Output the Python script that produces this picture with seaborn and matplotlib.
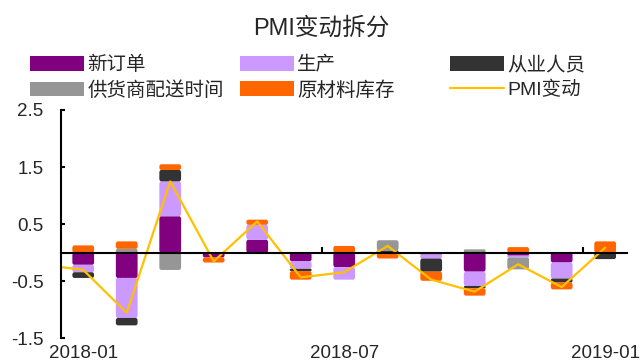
import numpy as np
import pandas as pd
import matplotlib
matplotlib.use('Agg')
import matplotlib.pyplot as plt
from matplotlib.patches import Patch, FancyBboxPatch
from matplotlib.lines import Line2D
import seaborn as sns

# 数据
months = ['2018-01', '2018-02', '2018-03', '2018-04', '2018-05', '2018-06', '2018-07',
          '2018-08', '2018-09', '2018-10', '2018-11', '2018-12', '2019-01']
new_orders = [-0.21, -0.44, 0.64, -0.08, 0.23, -0.15, -0.25, 0.00, -0.03, -0.33, -0.05, -0.17, 0.00]
production = [-0.13, -0.70, 0.61, 0.00, 0.26, -0.13, -0.22, 0.00, -0.07, -0.25, -0.03, -0.28, 0.00]
employment = [-0.10, -0.13, 0.20, 0.00, 0.00, -0.04, 0.00, 0.04, -0.23, -0.04, 0.00, -0.07, -0.11]
supplier = [0.00, 0.07, -0.30, 0.00, 0.00, 0.00, 0.00, 0.18, 0.00, 0.06, -0.21, 0.00, 0.00]
inventory = [0.13, 0.13, 0.10, -0.09, 0.09, -0.15, 0.12, -0.10, -0.16, -0.13, 0.10, -0.12, 0.20]
# PMI变动 (含2017-12)
pmi_months = ['2017-12'] + months
pmi_change = [-0.20, -0.30, -1.05, 1.25, -0.15, 0.55, -0.43, -0.34, 0.12, -0.47, -0.68, -0.20, -0.60, 0.09]

series = [('新订单', new_orders, '#800080'),
          ('生产', production, '#CC99FF'),
          ('从业人员', employment, '#333333'),
          ('供货商配送时间', supplier, '#969696'),
          ('原材料库存', inventory, '#FF6600')]
line_color = '#FFC000'

sns.set_theme(style='white')
plt.rcParams['font.family'] = ['Liberation Sans', 'Noto Sans CJK SC', 'DejaVu Sans']
plt.rcParams['axes.unicode_minus'] = False

fig = plt.figure(figsize=(6.43, 3.63), dpi=100)
ax = fig.add_axes([0.0956, 0.0675, 0.8794, 0.6295])

# 堆积柱：正值向上、负值向下分别累加
pos_base = np.zeros(len(months))
neg_base = np.zeros(len(months))
for name, vals, color in series:
    v = np.array(vals)
    bottom = np.where(v >= 0, pos_base, neg_base)
    df = pd.DataFrame({'月份': months, '值': v})
    sns.barplot(data=df, x='月份', y='值', color=color, saturation=1, width=0.5,
                bottom=bottom, ax=ax)
    pos_base = pos_base + np.clip(v, 0, None)
    neg_base = neg_base + np.clip(v, None, 0)

# 柱子圆角
for p in list(ax.patches):
    h = p.get_height()
    if abs(h) < 1e-9:
        p.remove()
        continue
    x, y, w = p.get_x(), p.get_y(), p.get_width()
    y0 = min(y, y + h)
    r = min(0.045, abs(h) / 2)
    fb = FancyBboxPatch((x, y0), w, abs(h), boxstyle=f'round,pad=0,rounding_size={r}',
                        facecolor=p.get_facecolor(), edgecolor='none', zorder=p.get_zorder())
    p.remove()
    ax.add_patch(fb)

# PMI变动折线
line_df = pd.DataFrame({'x': np.arange(len(pmi_months)) - 1, 'PMI变动': pmi_change})
sns.lineplot(data=line_df, x='x', y='PMI变动', color=line_color, linewidth=1.6, ax=ax)

ax.set_xlim(-0.5, len(months) - 0.5)
ax.set_ylim(-1.5, 2.5)
ax.set_yticks([-1.5, -0.5, 0.5, 1.5, 2.5])
ax.set_yticklabels(['-1.5', '-0.5', '0.5', '1.5', '2.5'])
ax.set_xlabel('')
ax.set_ylabel('')

for s in ['top', 'right']:
    ax.spines[s].set_visible(False)
ax.spines['left'].set_color('black')
ax.spines['left'].set_linewidth(1.5)
ax.spines['bottom'].set_position(('data', 0))
ax.spines['bottom'].set_color('black')
ax.spines['bottom'].set_linewidth(1.5)
ax.set_zorder(1)

ax.tick_params(axis='y', direction='in', length=3, width=1.5, color='black',
               labelsize=13.5, pad=13, left=True)
# x轴：零线上的小刻度，标签放在底部
ax.set_xticks([0, 6, 12])
ax.set_xticks([5.5, 11.5], minor=True)
ax.tick_params(axis='x', which='major', length=0, labelbottom=False)
ax.tick_params(axis='x', which='minor', direction='in', length=4, width=1.5,
               color='black', bottom=True)
sec = ax.secondary_xaxis(0)
sec.set_xticks([0, 6, 12])
sec.set_xticklabels(['2018-01', '2018-07', '2019-01'])
sec.tick_params(length=0, labelsize=13.5, pad=5)
sec.spines['bottom'].set_visible(False)

# 标题
fig.text(0.5, 1 - 28 / 363, 'PMI变动拆分', ha='center', va='center', fontsize=17)

# 图例：三列
handles = [Patch(facecolor=c, edgecolor='none') for _, _, c in series]
handles.append(Line2D([0], [0], color=line_color, lw=1.6))
labels = [n for n, _, _ in series] + ['PMI变动']
cols = [(0, 3), (1, 4), (2, 5)]
xs = [30 / 643, 240 / 643, 450 / 643]
for (i, j), x in zip(cols, xs):
    fig.legend([handles[i], handles[j]], [labels[i], labels[j]], loc='upper left',
               bbox_to_anchor=(x, 1 - 56 / 363), frameon=False, fontsize=14,
               borderpad=0, borderaxespad=0, handlelength=2.8, handleheight=0.8,
               handletextpad=0.15, labelspacing=0.35)

fig.savefig('out.png', dpi=100)
